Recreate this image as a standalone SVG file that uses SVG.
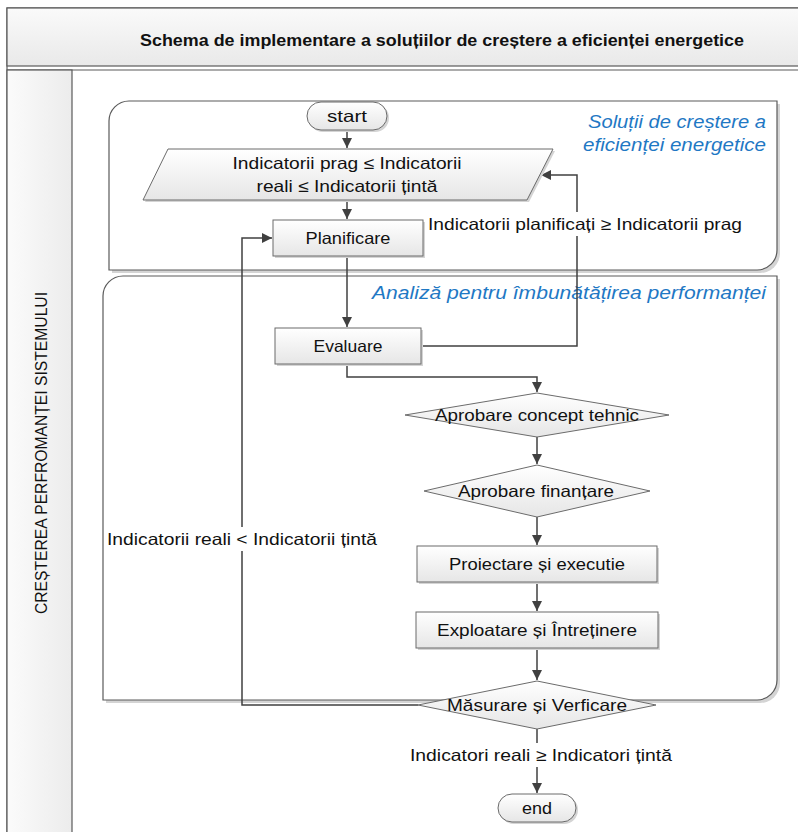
<svg xmlns="http://www.w3.org/2000/svg" width="798" height="832" viewBox="0 0 798 832">
<defs>
<linearGradient id="gShape" x1="0" y1="0" x2="0" y2="1"><stop offset="0" stop-color="#ffffff"/><stop offset="1" stop-color="#e6e6e6"/></linearGradient>
<linearGradient id="gTitle" x1="0" y1="0" x2="0" y2="1"><stop offset="0" stop-color="#fafafa"/><stop offset="1" stop-color="#e9e9e9"/></linearGradient>
<linearGradient id="gLane" x1="0" y1="0" x2="1" y2="0"><stop offset="0" stop-color="#fbfbfb"/><stop offset="1" stop-color="#ececec"/></linearGradient>
<marker id="arr" markerUnits="userSpaceOnUse" markerWidth="11" markerHeight="11" refX="10" refY="5" orient="auto"><path d="M0,0 L10,5 L0,10 z" fill="#404040"/></marker>
<style>
.sh{fill:url(#gShape);stroke:#6b6b6b;stroke-width:1}
.shadow{fill:#d4d4d4;stroke:none}
.cont{fill:#ffffff;stroke:#5a5a5a;stroke-width:1.2}
.t{font-family:"Liberation Sans",Arial,sans-serif;font-size:16.5px;fill:#111;text-anchor:middle}
.blue{font-family:"Liberation Sans",Arial,sans-serif;font-size:18px;font-style:italic;fill:#1f78c4;text-anchor:end}
.c{fill:none;stroke:#404040;stroke-width:1.5}
.bg{fill:#ffffff}
</style>
</defs>

<g id="frame">
<rect x="7" y="8" width="800" height="840" fill="#ffffff" stroke="#5a5a5a" stroke-width="1.2"/>
<rect x="7" y="8" width="800" height="58" fill="url(#gTitle)" stroke="#5a5a5a" stroke-width="1.2"/>
<line x1="7" y1="70" x2="798" y2="70" stroke="#5a5a5a" stroke-width="1.2"/>
<rect x="7" y="70" width="65" height="780" fill="url(#gLane)" stroke="#5a5a5a" stroke-width="1.2"/>
<text x="442" y="46" font-family="Liberation Sans, Arial, sans-serif" font-size="17" font-weight="bold" text-anchor="middle" fill="#111" textLength="604" lengthAdjust="spacingAndGlyphs">Schema de implementare a soluțiilor de creștere a eficienței energetice</text>
<text transform="translate(47,453) rotate(-90)" x="0" y="0" font-family="Liberation Sans, Arial, sans-serif" font-size="16" text-anchor="middle" fill="#111" textLength="322" lengthAdjust="spacingAndGlyphs">CREȘTEREA PERFROMANȚEI SISTEMULUI</text>
</g>

<g id="container-solutii">
<path class="shadow" d="M112,273 V124 A20,20 0 0 1 132,104 H780 V253 A20,20 0 0 1 760,273 Z"/>
<path class="cont" d="M109,270 V121 A20,20 0 0 1 129,101 H777 V250 A20,20 0 0 1 757,270 Z"/>
<text class="blue" x="766" y="128" textLength="178" lengthAdjust="spacingAndGlyphs">Soluții de creștere a</text>
<text class="blue" x="766" y="151" textLength="183" lengthAdjust="spacingAndGlyphs">eficienței energetice</text>
</g>

<g id="container-analiza">
<path class="shadow" d="M106,703 V299 A20,20 0 0 1 126,279 H780 V683 A20,20 0 0 1 760,703 Z"/>
<path class="cont" d="M103,700 V296 A20,20 0 0 1 123,276 H777 V680 A20,20 0 0 1 757,700 Z"/>
<text class="blue" x="766" y="299" textLength="394" lengthAdjust="spacingAndGlyphs">Analiză pentru îmbunătățirea performanței</text>
</g>

<g id="connectors">
<path class="c" d="M347,130 V148" marker-end="url(#arr)"/>
<path class="c" d="M347,200 V219" marker-end="url(#arr)"/>
<path class="c" d="M347,256 V327" marker-end="url(#arr)"/>
<path class="c" d="M347,364 V377 H537 V392" marker-end="url(#arr)"/>
<path class="c" d="M537,437 V464" marker-end="url(#arr)"/>
<path class="c" d="M537,517 V545" marker-end="url(#arr)"/>
<path class="c" d="M537,582 V611" marker-end="url(#arr)"/>
<path class="c" d="M537,648 V680" marker-end="url(#arr)"/>
<path class="c" d="M421,346 H577 V175 H541" marker-end="url(#arr)"/>
<path class="c" d="M418,705 H242 V238 H272" marker-end="url(#arr)"/>
<path class="c" d="M537,729 V793" marker-end="url(#arr)"/>
<rect class="bg" x="426" y="212" width="318" height="24"/>
<text class="t" x="585" y="230" textLength="314" lengthAdjust="spacingAndGlyphs">Indicatorii planificați ≥ Indicatorii prag</text>
<rect class="bg" x="105" y="527" width="274" height="24"/>
<text class="t" x="242" y="545" textLength="270" lengthAdjust="spacingAndGlyphs">Indicatorii reali &lt; Indicatorii țintă</text>
<rect class="bg" x="408" y="743" width="266" height="24"/>
<text class="t" x="541" y="761" textLength="262" lengthAdjust="spacingAndGlyphs">Indicatori reali ≥ Indicatori țintă</text>
</g>

<g id="start">
<rect class="shadow" x="309" y="104" width="80" height="28" rx="14"/>
<rect class="sh" x="307" y="102" width="80" height="28" rx="14"/>
<text class="t" x="347" y="122" textLength="40" lengthAdjust="spacingAndGlyphs">start</text>
</g>

<g id="indicatori-input">
<polygon class="shadow" points="170,151 555,151 529,202 145,202"/>
<polygon class="sh" points="168,149 553,149 527,200 143,200"/>
<text class="t" x="347" y="169" textLength="229" lengthAdjust="spacingAndGlyphs">Indicatorii prag ≤ Indicatorii</text>
<text class="t" x="347" y="192" textLength="181" lengthAdjust="spacingAndGlyphs">reali ≤ Indicatorii țintă</text>
</g>

<g id="planificare">
<rect class="shadow" x="275" y="222" width="150" height="36"/>
<rect class="sh" x="273" y="220" width="150" height="36"/>
<text class="t" x="348" y="244" textLength="85" lengthAdjust="spacingAndGlyphs">Planificare</text>
</g>

<g id="evaluare">
<rect class="shadow" x="277" y="330" width="146" height="36"/>
<rect class="sh" x="275" y="328" width="146" height="36"/>
<text class="t" x="348" y="352" textLength="69" lengthAdjust="spacingAndGlyphs">Evaluare</text>
</g>

<g id="aprobare-concept">
<polygon class="sh" points="537,393 669,415 537,437 405,415"/>
<text class="t" x="537" y="421" textLength="204" lengthAdjust="spacingAndGlyphs">Aprobare concept tehnic</text>
</g>

<g id="aprobare-finantare">
<polygon class="sh" points="537,465 650,491 537,517 424,491"/>
<text class="t" x="536" y="497" textLength="156" lengthAdjust="spacingAndGlyphs">Aprobare finanțare</text>
</g>

<g id="proiectare">
<rect class="shadow" x="419" y="548" width="240" height="36"/>
<rect class="sh" x="417" y="546" width="240" height="36"/>
<text class="t" x="537" y="570" textLength="176" lengthAdjust="spacingAndGlyphs">Proiectare și executie</text>
</g>

<g id="exploatare">
<rect class="shadow" x="418" y="614" width="242" height="36"/>
<rect class="sh" x="416" y="612" width="242" height="36"/>
<text class="t" x="537" y="636" textLength="200" lengthAdjust="spacingAndGlyphs">Exploatare și Întreținere</text>
</g>

<g id="masurare">
<polygon class="sh" points="537,681 656,705 537,729 418,705"/>
<text class="t" x="537" y="711" textLength="180" lengthAdjust="spacingAndGlyphs">Măsurare și Verficare</text>
</g>

<g id="end">
<rect class="shadow" x="500" y="796" width="78" height="28" rx="14"/>
<rect class="sh" x="498" y="794" width="78" height="28" rx="14"/>
<text class="t" x="537" y="814" textLength="30" lengthAdjust="spacingAndGlyphs">end</text>
</g>
</svg>
